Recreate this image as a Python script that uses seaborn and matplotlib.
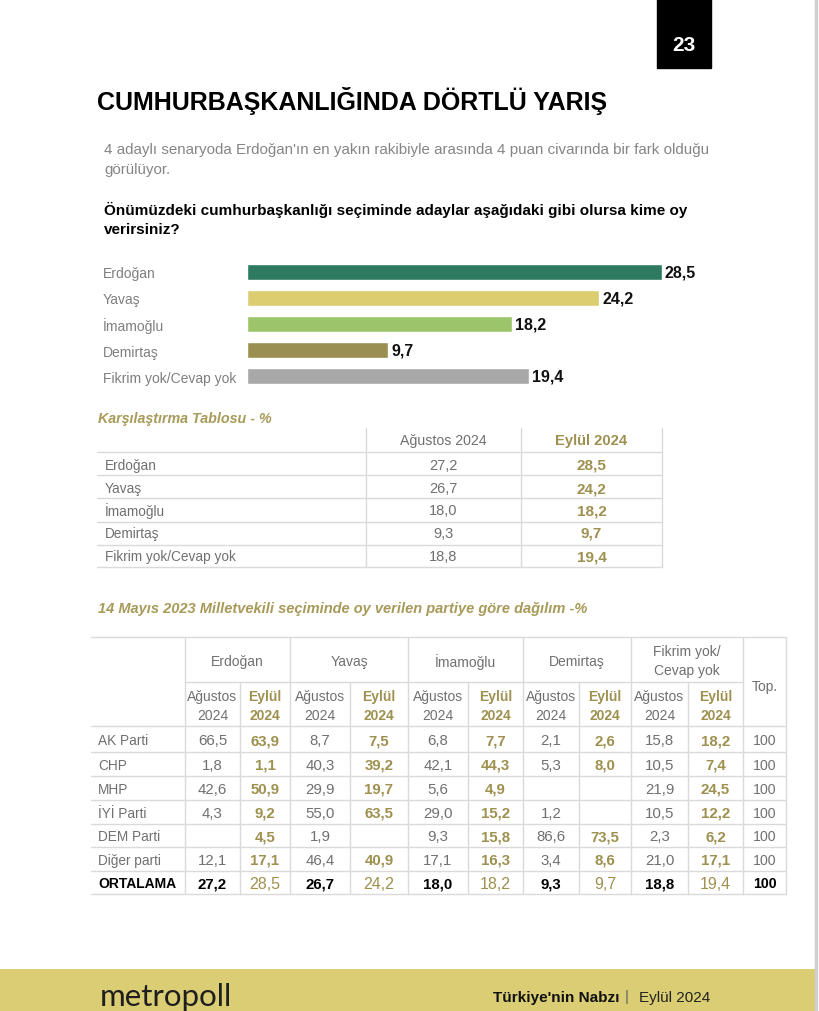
import matplotlib
matplotlib.use("Agg")
import matplotlib.pyplot as plt
import seaborn as sns
import pandas as pd

# --- data read from the page ---
candidates = ["Erdoğan", "Yavaş", "İmamoğlu", "Demirtaş", "Fikrim yok/Cevap yok"]
eylul_2024 = [28.5, 24.2, 18.2, 9.7, 19.4]
agustos_2024 = [27.2, 26.7, 18.0, 9.3, 18.8]
bar_colors = ["#2d7a60", "#dccd70", "#9cc46a", "#9a8f50", "#a8a8a8"]

parties = ["AK Parti", "CHP", "MHP", "İYİ Parti", "DEM Parti", "Diğer parti"]
group_names = ["Erdoğan", "Yavaş", "İmamoğlu", "Demirtaş", "Fikrim yok/\nCevap yok"]
erdogan_aug = [66.5, 1.8, 42.6, 4.3, None, 12.1]
erdogan_sep = [63.9, 1.1, 50.9, 9.2, 4.5, 17.1]
yavas_aug = [8.7, 40.3, 29.9, 55.0, 1.9, 46.4]
yavas_sep = [7.5, 39.2, 19.7, 63.5, None, 40.9]
imamoglu_aug = [6.8, 42.1, 5.6, 29.0, 9.3, 17.1]
imamoglu_sep = [7.7, 44.3, 4.9, 15.2, 15.8, 16.3]
demirtas_aug = [2.1, 5.3, None, 1.2, 86.6, 3.4]
demirtas_sep = [2.6, 8.0, None, None, 73.5, 8.6]
fikrim_aug = [15.8, 10.5, 21.9, 10.5, 2.3, 21.0]
fikrim_sep = [18.2, 7.4, 24.5, 12.2, 6.2, 17.1]
toplam = [100, 100, 100, 100, 100, 100]

OLIVE = "#9e904f"
GRAY = "#707070"
LINE = "#dadada"


def fmt(v):
    if v is None:
        return ""
    if isinstance(v, int):
        return str(v)
    return f"{v:.1f}".replace(".", ",")


sns.set_theme(style="white")
plt.rcParams["font.family"] = ["Liberation Sans", "DejaVu Sans"]

W, H = 820, 1012
fig = plt.figure(figsize=(W / 100, H / 100), dpi=100)
page = fig.add_axes([0, 0, 1, 1])
page.set_xlim(0, W)
page.set_ylim(H, 0)
page.axis("off")


def txt(x, y, s, size=10, color=GRAY, ha="left", **kw):
    page.text(x, y, s, fontsize=size, color=color, ha=ha, va="center", **kw)


def hline(y, x0, x1):
    page.plot([x0, x1], [y, y], color=LINE, lw=1)


def vline(x, y0, y1):
    page.plot([x, x], [y0, y1], color=LINE, lw=1)


# page number box
page.add_patch(plt.Rectangle((657, 0), 54, 69, color="black"))
txt(684, 45, "23", size=15, color="white", ha="center", weight="bold")

# title + intro
txt(97, 101, "CUMHURBAŞKANLIĞINDA DÖRTLÜ YARIŞ", size=18, color="black", weight="bold")
txt(104, 150, "4 adaylı senaryoda Erdoğan'ın en yakın rakibiyle arasında 4 puan civarında bir fark olduğu",
    size=10.9, color="#858585")
txt(104, 170, "görülüyor.", size=10.9, color="#858585")
txt(104, 210, "Önümüzdeki cumhurbaşkanlığı seçiminde adaylar aşağıdaki gibi olursa kime oy",
    size=11, color="black", weight="bold")
txt(104, 230, "verirsiniz?", size=11, color="black", weight="bold")

# --- bar chart ---
bar_df = pd.DataFrame({"aday": candidates, "oran": eylul_2024})
ax = fig.add_axes([247 / W, 1 - 390 / H, (30 * 415 / 28.5) / W, 130 / H])
sns.barplot(data=bar_df, y="aday", x="oran", hue="aday", palette=bar_colors,
            legend=False, width=0.64, ax=ax, saturation=1)
ax.set_xlim(0, 30)
ax.set_xlabel("")
ax.set_ylabel("")
ax.set_xticks([])
sns.despine(ax=ax, left=True, bottom=True)
ax.patch.set_alpha(0)
ax.tick_params(axis="y", length=0, pad=144 * 0.72, labelsize=10, labelcolor="#7f7f7f")
for lab in ax.get_yticklabels():
    lab.set_horizontalalignment("left")
for cont in ax.containers:
    ax.bar_label(cont, labels=[fmt(v) for v in cont.datavalues], padding=2,
                 fontsize=11.5, weight="bold", color="#111111")

# --- comparison table ---
txt(98, 419, "Karşılaştırma Tablosu - %", size=10.3, color="#a89a58", style="italic", weight="bold")
t1_left, t1_c1, t1_c2, t1_right = 97, 366, 521, 662
t1_rows = [466, 489, 511, 534, 557]
vline(t1_c1, 429, 568)
vline(t1_c2, 429, 568)
vline(t1_right, 429, 568)
for y in [453, 476, 499, 523, 546, 568]:
    hline(y, t1_left, t1_right)
txt((t1_c1 + t1_c2) / 2, 441, "Ağustos 2024", size=10.2, ha="center")
txt((t1_c2 + t1_right) / 2, 441, "Eylül 2024", size=10.6, ha="center", color=OLIVE, weight="bold")
for y, name, a, e in zip(t1_rows, candidates, agustos_2024, eylul_2024):
    txt(105, y, name, size=9.8)
    txt((t1_c1 + t1_c2) / 2, y, fmt(a), size=10.5, ha="center")
    txt((t1_c2 + t1_right) / 2, y, fmt(e), size=11, ha="center", color=OLIVE, weight="bold")

# --- party breakdown table ---
txt(98, 609, "14 Mayıs 2023 Milletvekili seçiminde oy verilen partiye göre dağılım -%",
    size=10.5, color="#a89a58", style="italic", weight="bold")
xs = [185, 240, 290, 350, 408, 468, 523, 579, 631, 688, 743, 786]
t2_left, t2_top, t2_mid = 91, 638, 683
row_lines = [727, 753, 777, 801, 825, 848, 872, 895]
hline(t2_top, t2_left, xs[-1])
hline(t2_mid, xs[0], xs[-2])
for y in row_lines:
    hline(y, t2_left, xs[-1])
for i, x in enumerate(xs):
    vline(x, t2_top if i % 2 == 0 or i == len(xs) - 1 else t2_mid, row_lines[-1])

for g, name in enumerate(group_names):
    cx = (xs[2 * g] + xs[2 * g + 2]) / 2
    if "\n" in name:
        top, bottom = name.split("\n")
        txt(cx, 652, top, size=10, ha="center")
        txt(cx, 671, bottom, size=10, ha="center")
    else:
        txt(cx, 662, name, size=10, ha="center")
    txt((xs[2 * g] + xs[2 * g + 1]) / 2, 697, "Ağustos", size=10, ha="center")
    txt((xs[2 * g] + xs[2 * g + 1]) / 2, 716, "2024", size=10, ha="center")
    txt((xs[2 * g + 1] + xs[2 * g + 2]) / 2, 697, "Eylül", size=10, ha="center", color=OLIVE, weight="bold")
    txt((xs[2 * g + 1] + xs[2 * g + 2]) / 2, 716, "2024", size=10, ha="center", color=OLIVE, weight="bold")
txt((xs[-2] + xs[-1]) / 2, 687, "Top.", size=10, ha="center")

columns = [erdogan_aug, erdogan_sep, yavas_aug, yavas_sep, imamoglu_aug, imamoglu_sep,
           demirtas_aug, demirtas_sep, fikrim_aug, fikrim_sep, toplam]
centers = [(xs[i] + xs[i + 1]) / 2 for i in range(len(xs) - 1)]
for r, party in enumerate(parties):
    y = (row_lines[r] + row_lines[r + 1]) / 2 + 1
    txt(98, y, party, size=9.8)
    for c, col in enumerate(columns):
        olive = c % 2 == 1 and c < 10
        txt(centers[c], y, fmt(col[r]), size=10.8 if c < 10 else 10.2, ha="center",
            color=OLIVE if olive else GRAY, weight="bold" if olive else "normal")

y = (row_lines[-2] + row_lines[-1]) / 2 + 1
txt(98, y, "ORTALAMA", size=10, color="black", weight="bold")
ortalama = []
for a, e in zip(agustos_2024, eylul_2024):
    ortalama += [a, e]
ortalama.append(100)
for c, v in enumerate(ortalama):
    if c % 2 == 1 and c < 10:
        txt(centers[c], y, fmt(v), size=11.5, ha="center", color=OLIVE)
    else:
        txt(centers[c], y, fmt(v), size=10.8 if c < 10 else 10.2, ha="center",
            color="black", weight="bold")

# footer
page.add_patch(plt.Rectangle((0, 970), 815, 42, color="#dacd73", lw=0))
page.plot([816, 816], [0, H], color="#cfcfcf", lw=2.5)
txt(100, 997, "metropoll", size=22.5, color="#1e1e1e", family=["Lato", "DejaVu Sans"])
txt(620, 998, "Türkiye'nin Nabzı", size=11, color="#111111", weight="bold", ha="right")
txt(627, 997, "|", size=11, color="#666666", ha="center")
txt(710, 998, "Eylül 2024", size=11, color="#222222", ha="right")

fig.savefig("out.png", dpi=100)
